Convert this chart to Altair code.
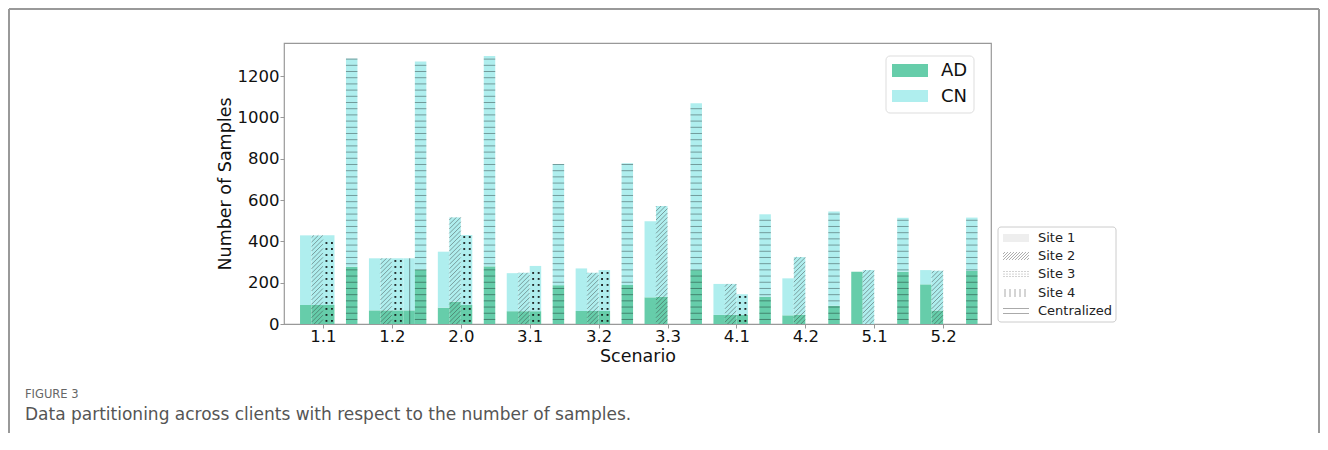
import json
import altair as alt
import pandas as pd

# ---------------- data ----------------
scenarios = ["1.1", "1.2", "2.0", "3.1", "3.2", "3.3", "4.1", "4.2", "5.1", "5.2"]
sites = ["Site 1", "Site 2", "Site 3", "Site 4", "Centralized"]

ad_site1 = [92, 66, 79, 62, 63, 129, 44, 42, 253, 192]
cn_site1 = [337, 252, 271, 184, 206, 368, 150, 179, 0, 69]
ad_site2 = [92, 66, 108, 62, 63, 132, 44, 45, 0, 65]
cn_site2 = [337, 252, 408, 186, 185, 439, 150, 279, 261, 193]
ad_site3 = [92, 66, 92, 62, 63, None, 44, None, None, None]
cn_site3 = [337, 252, 339, 219, 198, None, 100, None, None, None]
ad_site4 = [None, 66, None, None, None, None, None, None, None, None]
cn_site4 = [None, 252, None, None, None, None, None, None, None, None]
ad_central = [277, 264, 279, 188, 189, 261, 132, 88, 253, 257]
cn_central = [1008, 1007, 1018, 586, 589, 807, 399, 457, 261, 258]

AD_COLOR = "#66CDAA"
CN_COLOR = "#AFEEEE"

rows = []
for k, (site, ad, cn) in enumerate(zip(
        sites,
        [ad_site1, ad_site2, ad_site3, ad_site4, ad_central],
        [cn_site1, cn_site2, cn_site3, cn_site4, cn_central])):
    for i, sc in enumerate(scenarios):
        if ad[i] is None:
            continue
        rows.append(dict(scenario=sc, idx=i, site=site, k=k, AD=ad[i], CN=cn[i]))
df = pd.DataFrame(rows)

W = 1 / 6  # bar width in group units
XDOM = [-0.566, 9.695]
YDOM = [0, 1360]
PW, PH = 707, 281
H_DIAG = (PW / (XDOM[1] - XDOM[0]) * W) * (YDOM[1] / PH)  # 45 degree rise across one bar

FONT = "DejaVu Sans"
xscale = alt.Scale(domain=XDOM, nice=False, zero=False)
yscale = alt.Scale(domain=YDOM, nice=False, zero=False)

label_expr = json.dumps(scenarios) + "[datum.value]"
xaxis = alt.Axis(values=list(range(10)), labelExpr=label_expr, title="Scenario",
                 grid=False, domain=False, tickSize=4, tickColor="#999",
                 labelFont=FONT, labelFontSize=16.5, labelColor="#111", labelPadding=0,
                 titleFont=FONT, titleFontSize=17.5, titleFontWeight="normal",
                 titleColor="#111", titleY=37, titleBaseline="alphabetic")
yaxis = alt.Axis(values=[0, 200, 400, 600, 800, 1000, 1200], format="d",
                 title="Number of Samples",
                 grid=False, domain=False, tickSize=4, tickColor="#999",
                 labelFont=FONT, labelFontSize=16.5, labelColor="#111", labelPadding=1,
                 titleFont=FONT, titleFontSize=17.5, titleFontWeight="normal",
                 titleColor="#111", titleX=-54, titleY=PH / 2, titleAngle=270,
                 titleAlign="center", titleBaseline="alphabetic")


def X(f):
    return alt.X(f, type="quantitative", scale=xscale, axis=xaxis)


def Y(f):
    return alt.Y(f, type="quantitative", scale=yscale, axis=yaxis)


base = alt.Chart(df)

bars = base.transform_fold(["AD", "CN"], as_=["cls", "n"]).transform_calculate(
    lo="datum.cls == 'AD' ? 0 : datum.AD"
).transform_calculate(
    hi="datum.lo + datum.n"
).transform_calculate(
    xl=f"datum.idx + (datum.k - 2) * {W}"
).transform_calculate(
    xr=f"datum.xl + {W}"
).mark_rect().encode(
    x=X("xl"), x2="xr", y=Y("lo"), y2="hi",
    color=alt.Color("cls:N", scale=alt.Scale(domain=["AD", "CN"], range=[AD_COLOR, CN_COLOR]),
                    legend=None),
)

# Centralized: horizontal hatch
central_h = base.transform_filter("datum.site == 'Centralized'").transform_calculate(
    top="datum.AD + datum.CN"
).transform_calculate(
    hy="sequence(22, datum.top, 30)"
).transform_flatten(["hy"]).transform_calculate(
    xl=f"datum.idx + (datum.k - 2) * {W}"
).transform_calculate(
    xr=f"datum.xl + {W}"
).mark_rule(color="#000", opacity=0.35, strokeWidth=1).encode(
    x=X("xl"), x2="xr", y=Y("hy"))

# Site 2: diagonal hatch
STEP = 21.5
diag = base.transform_filter("datum.site == 'Site 2'").transform_calculate(
    top="datum.AD + datum.CN"
).transform_calculate(
    y0=f"sequence({-H_DIAG}, datum.top, {STEP})"
).transform_flatten(["y0"]).transform_calculate(
    xl=f"datum.idx + (datum.k - 2) * {W}"
).transform_calculate(
    ts=f"max(0, -datum.y0 / {H_DIAG})"
).transform_calculate(
    te=f"min(1, (datum.top - datum.y0) / {H_DIAG})"
).transform_filter("datum.te > datum.ts").transform_calculate(
    xa=f"datum.xl + datum.ts * {W}"
).transform_calculate(
    ya=f"datum.y0 + datum.ts * {H_DIAG}"
).transform_calculate(
    xb=f"datum.xl + datum.te * {W}"
).transform_calculate(
    yb=f"datum.y0 + datum.te * {H_DIAG}"
).mark_rule(color="#333", opacity=0.55, strokeWidth=0.8).encode(
    x=X("xa"), x2="xb", y=Y("ya"), y2="yb")

# Site 3: dots
dots = base.transform_filter("datum.site == 'Site 3'").transform_calculate(
    top="datum.AD + datum.CN"
).transform_calculate(
    hy="sequence(15, datum.top - 8, 29)"
).transform_flatten(["hy"]).transform_calculate(
    cx="[0.3, 0.78]"
).transform_flatten(["cx"]).transform_calculate(
    xd=f"datum.idx + (datum.k - 2 + datum.cx) * {W}"
).mark_square(color="#111", opacity=0.9, size=3.5).encode(
    x=X("xd"), y=Y("hy"))

# Site 4: vertical hatch
vlines = base.transform_filter("datum.site == 'Site 4'").transform_calculate(
    top="datum.AD + datum.CN"
).transform_calculate(
    xm=f"datum.idx + (datum.k - 2 + 0.55) * {W}"
).transform_calculate(
    zero="0"
).mark_rule(color="#000", opacity=0.4, strokeWidth=1).encode(
    x=X("xm"), y=Y("zero:Q"), y2="top")

# ---------------- decorations (pixel positions relative to plot origin) ----------------
one = pd.DataFrame({"a": [0]})


def seg(x1, y1, x2, y2, color="#888", width=1.0, opacity=1.0):
    return alt.Chart(one).mark_rule(color=color, strokeWidth=width, opacity=opacity).encode(
        x=alt.value(x1), y=alt.value(y1), x2=alt.value(x2), y2=alt.value(y2))


def box(x1, y1, x2, y2, fill, stroke=None, sw=1.0, radius=0):
    kw = dict(fill=fill, cornerRadius=radius)
    if stroke:
        kw.update(stroke=stroke, strokeWidth=sw)
    return alt.Chart(one).mark_rect(**kw).encode(
        x=alt.value(x1), y=alt.value(y1), x2=alt.value(x2), y2=alt.value(y2))


def txt(x, y, s, size, color="#111", font=FONT, baseline="middle", weight="normal"):
    return alt.Chart(one).mark_text(align="left", baseline=baseline, fontSize=size, font=font,
                                    color=color, fontWeight=weight).encode(
        x=alt.value(x), y=alt.value(y), text=alt.value(s))


deco = []
# AD / CN legend
deco.append(box(602, 13, 690, 70, "white", "#dddddd", 1, 4))
deco.append(box(608, 21, 644, 34, AD_COLOR))
deco.append(box(608, 47, 644, 59, CN_COLOR))
deco.append(txt(657, 28, "AD", 18))
deco.append(txt(657, 54, "CN", 18))

# Site legend
deco.append(box(714, 184, 832, 279, "white", "#cccccc", 1, 3))
lx1, lx2 = 719, 745
ycs = [195, 213, 231, 250, 268]
for s, yc in zip(sites, ycs):
    deco.append(txt(754, yc, s, 13, "#222"))
# Site 1 swatch
deco.append(box(lx1, ycs[0] - 4, lx2, ycs[0] + 4, "#eeeeee"))
# Site 2 swatch: diagonal lines
yc = ycs[1]
for s in range(-6, 26, 3):
    xa, ya = lx1 + s, yc + 4
    xb, yb = xa + 8, yc - 4
    if xa < lx1:
        ya = yc + 4 - (lx1 - xa)
        xa = lx1
    if xb > lx2:
        yb = yc - 4 + (xb - lx2)
        xb = lx2
    deco.append(seg(xa, ya, xb, yb, "#999", 0.8))
# Site 3 swatch: dots
yc = ycs[2]
for r in (-2.5, 0, 2.5):
    for c in range(lx1 + 1, lx2, 3):
        deco.append(alt.Chart(one).mark_circle(color="#999", size=1.2, opacity=1).encode(
            x=alt.value(c), y=alt.value(yc + r)))
# Site 4 swatch: vertical lines
yc = ycs[3]
for c in range(lx1 + 2, lx2, 5):
    deco.append(seg(c, yc - 4, c, yc + 4, "#aaa", 1))
# Centralized swatch: horizontal lines
yc = ycs[4]
for r in (-2.5, 2.5):
    deco.append(seg(lx1, yc + r, lx2, yc + r, "#aaa", 1))

# caption
deco.append(txt(-259, 355, "FIGURE 3", 11.5, "#666", FONT, "alphabetic"))
deco.append(txt(-259, 377, "Data partitioning across clients with respect to the number of samples.",
                17, "#555", FONT, "alphabetic"))

# outer frame
deco.append(seg(-275, -34, 1035, -34, "#999", 2))
deco.append(seg(-275, -34, -275, 420, "#999", 2))
deco.append(seg(1035, -34, 1035, 420, "#999", 2))

chart = alt.layer(bars, central_h, diag, dots, vlines, *deco).properties(
    width=PW, height=PH,
    autosize=alt.AutoSizeParams(type="none"),
    padding={"left": 276, "top": 35, "right": 329, "bottom": 109},
    background="white",
).configure_view(stroke="#999", strokeWidth=1.2)

chart.save("out.html", embed_options={"renderer": "svg", "actions": False})
